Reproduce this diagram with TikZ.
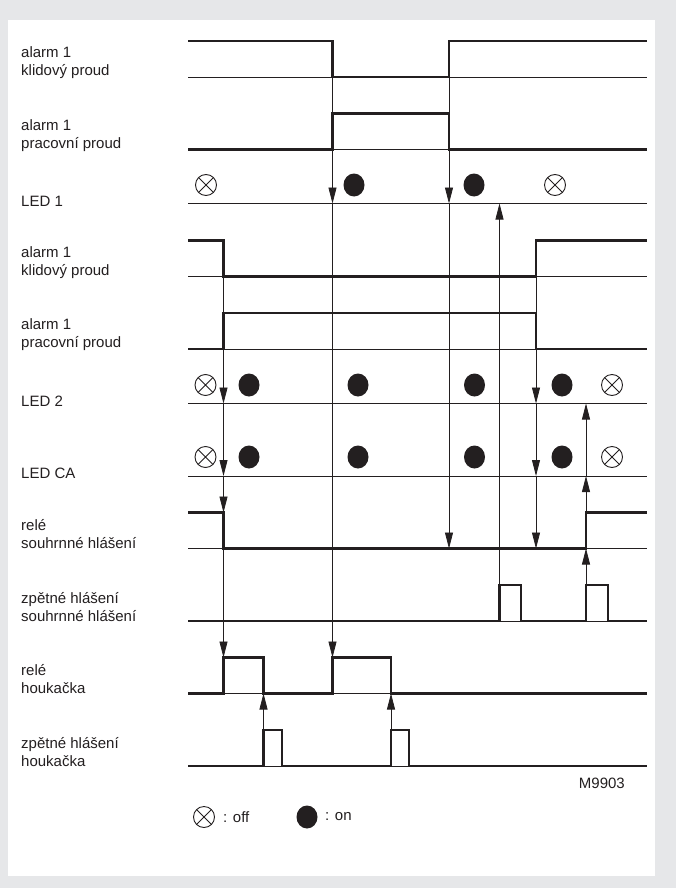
\documentclass[tikz,border=0pt]{standalone}
\usepackage{fontspec}
\setmainfont{Liberation Sans}
\usetikzlibrary{arrows.meta,shapes.geometric}
\definecolor{panelgray}{HTML}{E6E7E9}
\definecolor{ink}{HTML}{231F20}

\begin{document}
\begin{tikzpicture}[x=1pt, y=-1pt,
  lbl/.style={anchor=west, align=left, text=ink, inner sep=0pt, font=\fontsize{15}{18}\selectfont},
  ledon/.style={ellipse, fill=ink, minimum width=21pt, minimum height=23pt, inner sep=0pt},
  ledoff/.style={circle, draw=ink, line width=0.9pt, minimum size=21pt, inner sep=0pt,
    path picture={\draw[ink, line width=0.9pt]
      (path picture bounding box.north west) -- (path picture bounding box.south east)
      (path picture bounding box.north east) -- (path picture bounding box.south west);}}]

\useasboundingbox (0,0) rectangle (676,888);
\fill[panelgray] (0,0) rectangle (676,888);
\fill[white] (7.5,20) rectangle (655,876);

% labels
\node[lbl] (t1) at (21,63) {alarm 1\\klidový proud};
\node[lbl] (t2) at (21,135.5) {alarm 1\\pracovní proud};
\node[lbl] (t3) at (21,201) {LED 1};
\node[lbl] (t4) at (21,262.5) {alarm 1\\klidový proud};
\node[lbl] (t5) at (21,335) {alarm 1\\pracovní proud};
\node[lbl] (t6) at (21,401) {LED 2};
\node[lbl] (t7) at (21,473.5) {LED CA};
\node[lbl] (t8) at (21,534.5) {relé\\souhrnné hlášení};
\node[lbl] (t9) at (21,607) {zpětné hlášení\\souhrnné hlášení};
\node[lbl] (t10) at (21,679.5) {relé\\houkačka};
\node[lbl] (t11) at (21,752) {zpětné hlášení\\houkačka};
\node[lbl, anchor=east] (code) at (625,783) {M9903};

% base lines
\begin{scope}[ink, line width=0.8pt]
\draw (188,77) -- (647,77);
\draw (188,149.5) -- (647,149.5);
\draw (188,203.5) -- (647,203.5);
\draw (188,276.5) -- (647,276.5);
\draw (188,349) -- (647,349);
\draw (188,403.5) -- (647,403.5);
\draw (188,476) -- (647,476);
\draw (188,548.5) -- (647,548.5);
\draw (188,621) -- (647,621);
\draw (188,693.5) -- (647,693.5);
\draw (188,766) -- (647,766);
\end{scope}

% signals
\begin{scope}[ink, line width=2.4pt]
\draw (188,41) -| (332.5,77) -| (449,41) -- (647,41);
\draw (188,149.5) -| (332.5,113.5) -| (449,149.5) -- (647,149.5);
\draw (188,240.5) -| (223.5,276.5) -| (536,240.5) -- (647,240.5);
\draw (188,349) -| (223.5,313) -| (536,349) -- (647,349);
\draw (188,512.5) -| (223.5,548.5) -| (586,512.5) -- (647,512.5);
\draw (188,621) -| (499.5,585) -| (521,621) -| (586,585) -| (608,621) -- (647,621);
\draw (188,693.5) -| (223.5,657.5) -| (263.5,693.5) -| (332.5,657.5) -| (391,693.5) -- (647,693.5);
\draw (188,766) -| (263.5,730) -| (282,766) -| (391,730) -| (409,766) -- (647,766);
\end{scope}

% LED states
\node[ledoff] (a1) at (206,185) {};
\node[ledon]  (a2) at (354,185) {};
\node[ledon]  (a3) at (474,185) {};
\node[ledoff] (a4) at (555,185) {};

\node[ledoff] (b1) at (205.5,385) {};
\node[ledon]  (b2) at (249,385) {};
\node[ledon]  (b3) at (358,385) {};
\node[ledon]  (b4) at (474.5,385) {};
\node[ledon]  (b5) at (562,385) {};
\node[ledoff] (b6) at (612,385) {};

\node[ledoff] (c1) at (205.5,457) {};
\node[ledon]  (c2) at (249,457) {};
\node[ledon]  (c3) at (358,457) {};
\node[ledon]  (c4) at (474.5,457) {};
\node[ledon]  (c5) at (562,457) {};
\node[ledoff] (c6) at (612,457) {};

% legend
\node[ledoff] (k1) at (204,817) {};
\node[lbl] (k1t) at (223,817) {: off};
\node[ledon] (k2) at (307,817) {};
\node[lbl] (k2t) at (325,817) {: on};

% cause and effect
\begin{scope}[ink, line width=0.8pt, -{Triangle[length=16pt,width=8pt]}]
\draw (332.5,77) -- (332.5,203.5);
\draw (332.5,203.5) -- (332.5,657.5);
\draw (449,77) -- (449,203.5);
\draw (449,203.5) -- (449,548.5);
\draw (223.5,276.5) -- (223.5,403.5);
\draw (223.5,403.5) -- (223.5,476);
\draw (223.5,476) -- (223.5,512.5);
\draw (223.5,548.5) -- (223.5,657.5);
\draw (536,276.5) -- (536,403.5);
\draw (536,403.5) -- (536,476);
\draw (536,476) -- (536,548.5);
\draw (499.5,585) -- (499.5,203.5);
\draw (586,585) -- (586,548.5);
\draw (586,512.5) -- (586,476);
\draw (586,476) -- (586,403.5);
\draw (263.5,730) -- (263.5,693.5);
\draw (391,730) -- (391,693.5);
\end{scope}

\end{tikzpicture}
\end{document}
